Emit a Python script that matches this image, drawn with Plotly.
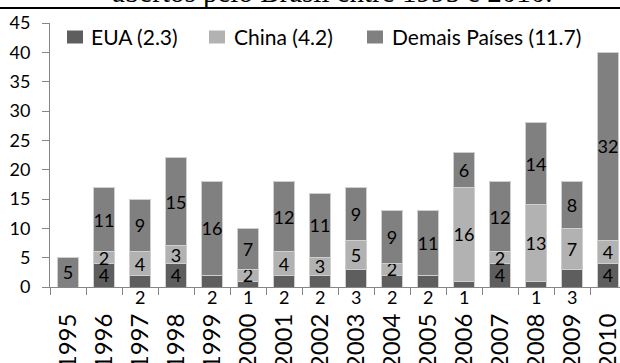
import plotly.graph_objects as go

# Annual counts per origin country group (stacked), 1995-2010
years = [str(y) for y in range(1995, 2011)]
eua = [0, 4, 2, 4, 2, 1, 2, 2, 3, 2, 2, 1, 4, 1, 3, 4]
china = [0, 2, 4, 3, 0, 2, 4, 3, 5, 2, 0, 16, 2, 13, 7, 4]
demais = [5, 11, 9, 15, 16, 7, 12, 11, 9, 9, 11, 6, 12, 14, 8, 32]

series_names = ["EUA (2.3)", "China (4.2)", "Demais Países (11.7)"]
series_colors = ["#5e5e5e", "#b2b2b2", "#808080"]

title_text = "abertos pelo Brasil entre 1995 e 2010."

W, H = 620, 363
ML, MR, MT, MB = 50, 0, 23, 76
PW, PH = W - ML - MR, H - MT - MB
FONT = "Lato"
AXIS_GRAY = "#868686"


def px_x(px):
    return (px - ML) / PW


def px_y(py):
    return (H - MB - py) / PH


def inside_labels(vals, minimum=1):
    return [str(v) if v >= minimum else "" for v in vals]


fig = go.Figure()
for name, vals, color, lab in [
    (series_names[0], eua, series_colors[0], inside_labels(eua, 4)),
    (series_names[1], china, series_colors[1], inside_labels(china)),
    (series_names[2], demais, series_colors[2], inside_labels(demais)),
]:
    fig.add_trace(go.Bar(
        x=years, y=vals, name=name,
        marker=dict(color=color, line=dict(color="#cfcfcf", width=1)),
        text=lab, textposition="inside", insidetextanchor="middle",
        constraintext="none", textangle=0,
        insidetextfont=dict(family=FONT, size=18, color="black"),
        showlegend=False, hoverinfo="skip",
    ))

annotations = []
# small US counts are written just under the axis (x given as category index)
for i, v in enumerate(eua):
    if 0 < v < 4:
        annotations.append(dict(
            x=i, y=0, xref="x", yref="y", text=str(v), showarrow=False,
            yshift=-10, yanchor="middle", xanchor="center",
            font=dict(family=FONT, size=18, color="black"),
        ))

# legend drawn as swatches + labels across the top of the plot
legend_swatch_x = [67, 209, 367]
legend_text_x = [89, 232, 390]
shapes = []
for name, color, sx, tx in zip(series_names, series_colors, legend_swatch_x, legend_text_x):
    shapes.append(dict(
        type="rect", xref="paper", yref="paper",
        x0=px_x(sx), x1=px_x(sx + 16), y0=px_y(43.5), y1=px_y(30.5),
        fillcolor=color, line=dict(width=0),
    ))
    annotations.append(dict(
        x=px_x(tx), y=px_y(37), xref="paper", yref="paper", text=name,
        showarrow=False, xanchor="left", yanchor="middle",
        font=dict(family=FONT, size=21, color="black"),
    ))

# caption line above the chart (only its lower edge falls inside the page)
annotations.append(dict(
    x=px_x(332), y=px_y(10.5), xref="paper", yref="paper", text=title_text,
    showarrow=False, xanchor="center", yanchor="bottom",
    font=dict(family="Liberation Serif", size=29, color="black"),
))
shapes.append(dict(
    type="line", xref="paper", yref="paper",
    x0=px_x(0), x1=px_x(W), y0=px_y(8), y1=px_y(8),
    line=dict(color="black", width=2),
))

fig.update_layout(
    width=W, height=H,
    margin=dict(l=ML, r=MR, t=MT, b=MB, pad=0),
    barmode="stack", bargap=0.39,
    paper_bgcolor="white", plot_bgcolor="white",
    annotations=annotations, shapes=shapes,
    xaxis=dict(
        type="category", range=[-0.5, 15.333], automargin=False,
        tickson="boundaries", ticks="outside", ticklen=7, tickcolor=AXIS_GRAY,
        showline=True, linecolor=AXIS_GRAY, linewidth=1, showgrid=False,
        tickangle=-90, ticklabelstandoff=16,
        tickfont=dict(family=FONT, size=24, color="black"),
    ),
    yaxis=dict(
        range=[0, 45], dtick=5, ticks="outside", ticklen=7, tickcolor=AXIS_GRAY,
        showline=True, linecolor=AXIS_GRAY, linewidth=1, automargin=False,
        showgrid=False, zeroline=False, ticklabelstandoff=8,
        tickfont=dict(family=FONT, size=18, color="black"),
    ),
)

fig.write_html("out.html", config={"displayModeBar": False})
